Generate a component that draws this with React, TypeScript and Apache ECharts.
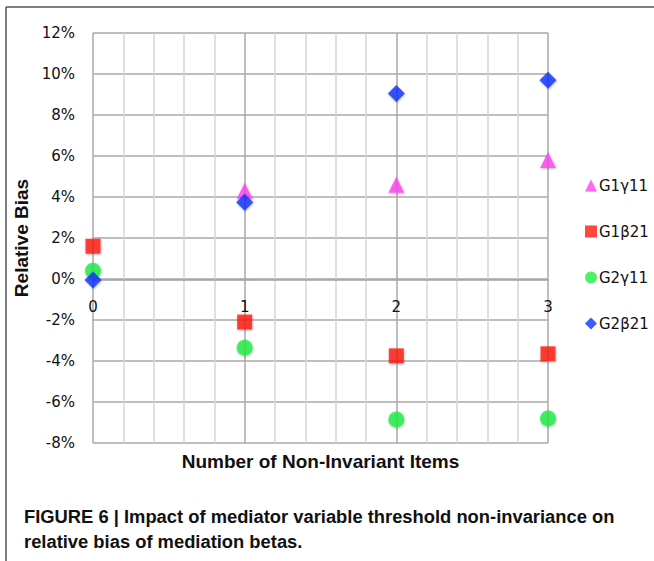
import React, { useEffect, useRef } from "react";
import * as echarts from "echarts";

const xTicks = [0, 1, 2, 3];
const g1Gamma11: [number, number][] = [[1, 4.3], [2, 4.6], [3, 5.8]];
const g1Beta21: [number, number][] = [[0, 1.6], [1, -2.1], [2, -3.75], [3, -3.65]];
const g2Gamma11: [number, number][] = [[0, 0.4], [1, -3.35], [2, -6.85], [3, -6.8]];
const g2Beta21: [number, number][] = [[0, -0.05], [1, 3.75], [2, 9.05], [3, 9.7]];
const seriesNames = ["G1γ11", "G1β21", "G2γ11", "G2β21"];
const captionLines = [
  "FIGURE 6 | Impact of mediator variable threshold non-invariance on",
  "relative bias of mediation betas.",
];

const FONT = "'Liberation Sans', 'DejaVu Sans', sans-serif";
const TICKFONT = "'DejaVu Sans', 'Liberation Sans', sans-serif";

export default function App() {
  const ref = useRef<HTMLDivElement>(null);
  useEffect(() => {
    document.body.style.margin = "0";
    const chart = echarts.init(ref.current!, undefined, { renderer: "svg" });
    const shadow = {
      shadowBlur: 2,
      shadowColor: "rgba(0,0,0,0.35)",
      shadowOffsetX: 0.5,
      shadowOffsetY: 1,
    };
    const mk = (name: string, data: [number, number][], symbol: string, size: number, color: string, z: number) => ({
      type: "scatter",
      name,
      data,
      symbol,
      symbolSize: size,
      z,
      itemStyle: { color, ...shadow },
    });
    chart.setOption({
      animation: false,
      backgroundColor: "#ffffff",
      grid: { left: 93, top: 33, width: 455, height: 410, containLabel: false, outerBoundsMode: "none" },
      xAxis: {
        type: "value",
        min: 0,
        max: 3,
        interval: 1,
        position: "bottom",
        offset: -163,
        axisLine: { show: true, onZero: false, lineStyle: { color: "#a0a0a0", width: 1.5 } },
        axisTick: { show: false },
        axisLabel: {
          margin: 19,
          fontFamily: TICKFONT,
          fontSize: 15,
          color: "#111",
          formatter: (v: number) => (xTicks.includes(v) ? String(v) : ""),
        },
        splitLine: { show: true, lineStyle: { color: "#a8a8a8", width: 1.5 } },
        minorTick: { show: false, splitNumber: 5 },
        minorSplitLine: { show: true, lineStyle: { color: "#d6d6d6", width: 1.5 } },
        name: "Number of Non-Invariant Items",
        nameLocation: "middle",
        nameGap: 172,
        nameTextStyle: { fontFamily: FONT, fontSize: 19, fontWeight: "bold", color: "#111" },
      },
      yAxis: {
        type: "value",
        min: -8,
        max: 12,
        interval: 2,
        axisLine: { show: false },
        axisTick: { show: false },
        axisLabel: {
          margin: 18,
          fontFamily: TICKFONT,
          fontSize: 15,
          color: "#111",
          formatter: (v: number) => `${v}%`,
        },
        splitLine: { show: true, lineStyle: { color: "#a8a8a8", width: 1.5 } },
        name: "Relative Bias",
        nameLocation: "middle",
        nameGap: 55,
        nameTextStyle: { fontFamily: FONT, fontSize: 19, fontWeight: "bold", color: "#111" },
      },
      legend: {
        orient: "vertical",
        left: 580,
        top: 173,
        itemGap: 31,
        itemWidth: 12,
        itemHeight: 12,
        data: [
          { name: seriesNames[0], icon: "triangle" },
          { name: seriesNames[1], icon: "rect" },
          { name: seriesNames[2], icon: "circle" },
          { name: seriesNames[3], icon: "diamond" },
        ],
        textStyle: { fontFamily: TICKFONT, fontSize: 15, color: "#111", padding: [0, 0, 0, -3] },
      },
      graphic: [
        { type: "line", shape: { x1: 6, y1: 7, x2: 654, y2: 7 }, style: { stroke: "#555", lineWidth: 1.5 } },
        { type: "line", shape: { x1: 6, y1: 7, x2: 6, y2: 561 }, style: { stroke: "#555", lineWidth: 1.5 } },
        ...captionLines.map((t, i) => ({
          type: "text",
          x: 24,
          y: 517 + i * 25,
          scaleX: 1.02,
          style: {
            text: t,
            font: `bold 18px ${FONT}`,
            fill: "#111",
            textVerticalAlign: "middle",
          },
        })),
      ],
      series: [
        mk(seriesNames[0], g1Gamma11, "triangle", 16, "#ff44ee", 3),
        mk(seriesNames[1], g1Beta21, "rect", 15, "#ff1a0a", 2),
        mk(seriesNames[2], g2Gamma11, "circle", 16, "#22ee44", 2),
        mk(seriesNames[3], g2Beta21, "diamond", 17, "#0a35ff", 4),
      ],
    });
    return () => chart.dispose();
  }, []);
  return <div ref={ref} style={{ width: 654, height: 561 }} />;
}
